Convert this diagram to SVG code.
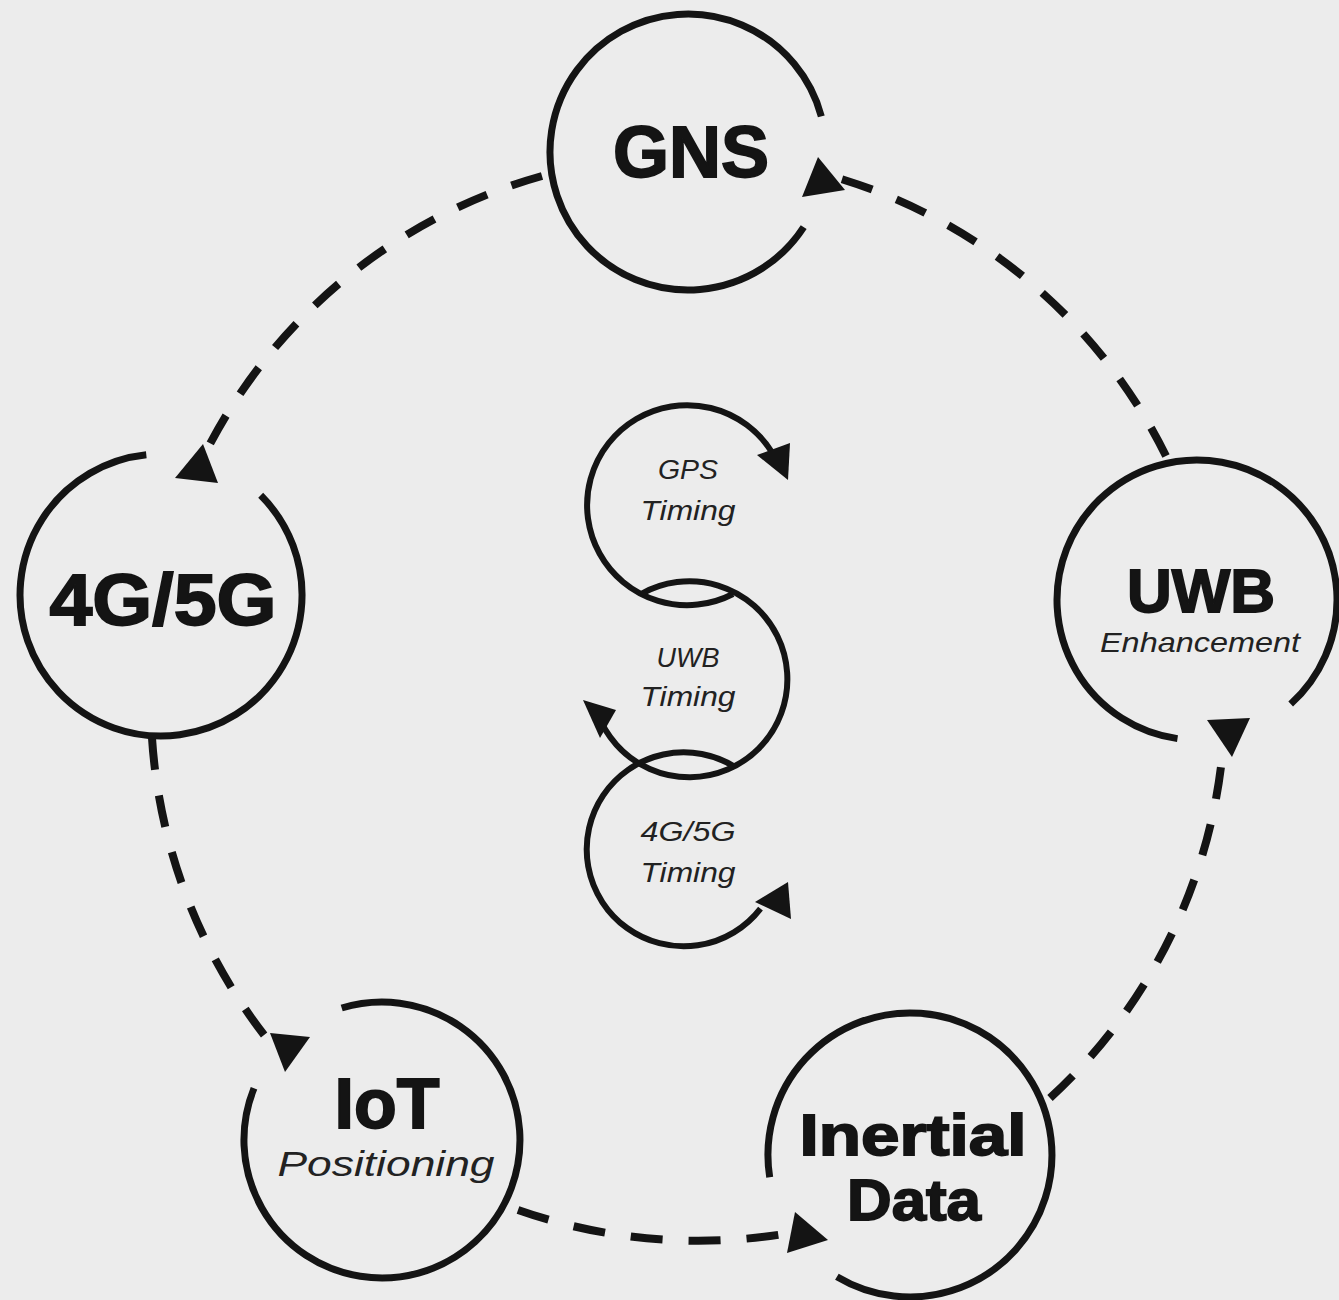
<svg xmlns="http://www.w3.org/2000/svg" width="1339" height="1300" viewBox="0 0 1339 1300">
<style>
.ring{fill:none;stroke:#141414;stroke-width:7;stroke-linecap:butt}
.spiral{fill:none;stroke:#141414;stroke-width:6;stroke-linecap:butt}
.dash{fill:none;stroke:#141414;stroke-width:8;stroke-dasharray:32 26;stroke-linecap:butt}
.head{fill:#141414}
.big{font-family:"Liberation Sans",Arial,sans-serif;font-weight:bold;fill:#141414;stroke:#141414;stroke-width:1.8;text-anchor:middle}
.sub{font-family:"Liberation Sans",Arial,sans-serif;font-style:italic;fill:#222;text-anchor:middle}
</style>
<rect width="1339" height="1300" fill="#ececec"/>
<g id="connectors">
<path class="dash" d="M1166,456 A540,540 0 0,0 838,178"/>
<path class="dash" d="M542,176 A540,540 0 0,0 210,444"/>
<path class="dash" d="M152,738 A545,545 0 0,0 272,1045"/>
<path class="dash" d="M518,1210 A545,545 0 0,0 790,1233"/>
<path class="dash" d="M1050,1098 A540,540 0 0,0 1222,758"/>
<polygon class="head" points="802,197 818,157 845,190"/>
<polygon class="head" points="175,478 203,444 218,483"/>
<polygon class="head" points="270,1033 310,1037 285,1072"/>
<polygon class="head" points="795,1212 828,1240 787,1253"/>
<polygon class="head" points="1207,720 1250,718 1232,757"/>
</g>
<g id="node-gns">
<path class="ring" d="M803.7,227.2 A138,138 0 1,1 821.3,116.3"/>
<text class="big" x="691" y="177" font-size="72">GNS</text>
</g>
<g id="node-4g5g">
<path class="ring" d="M260.7,495.3 A141,141 0 1,1 146.3,454.8"/>
<text class="big" x="163" y="625" font-size="72" textLength="227" lengthAdjust="spacingAndGlyphs">4G/5G</text>
</g>
<g id="node-uwb">
<path class="ring" d="M1177.5,738.6 A140,140 0 1,1 1290.7,704"/>
<text class="big" x="1201" y="612" font-size="62">UWB</text>
<text class="sub" x="1200" y="652" font-size="28" textLength="200" lengthAdjust="spacingAndGlyphs">Enhancement</text>
</g>
<g id="node-iot">
<path class="ring" d="M341.7,1008 A138,138 0 1,1 254,1088.3"/>
<text class="big" x="387" y="1128" font-size="70">IoT</text>
<text class="sub" x="386" y="1176" font-size="35" textLength="217" lengthAdjust="spacingAndGlyphs">Positioning</text>
</g>
<g id="node-inertial">
<path class="ring" d="M769.7,1177.2 A142,142 0 1,1 836.9,1276.7"/>
<text class="big" x="913" y="1155" font-size="58" textLength="227" lengthAdjust="spacingAndGlyphs">Inertial</text>
<text class="big" x="914" y="1220" font-size="58" textLength="134" lengthAdjust="spacingAndGlyphs">Data</text>
</g>
<g id="center-timing">
<path class="spiral" d="M733,594 A100,100 0 1,1 771.8,452"/>
<polygon class="head" points="757,455 790,443 788,480"/>
<path class="spiral" d="M641,594 A98,98 0 1,1 597,712"/>
<polygon class="head" points="583,700 616,710 600,738"/>
<path class="spiral" d="M735,767 A97,97 0 1,0 760.5,908.6"/>
<polygon class="head" points="755,902 788,882 791,919"/>
<text class="sub" x="688" y="479" font-size="27" textLength="60" lengthAdjust="spacingAndGlyphs">GPS</text>
<text class="sub" x="688" y="520" font-size="27" textLength="95" lengthAdjust="spacingAndGlyphs">Timing</text>
<text class="sub" x="688" y="667" font-size="27" textLength="63" lengthAdjust="spacingAndGlyphs">UWB</text>
<text class="sub" x="688" y="706" font-size="27" textLength="95" lengthAdjust="spacingAndGlyphs">Timing</text>
<text class="sub" x="688" y="841" font-size="27" textLength="95" lengthAdjust="spacingAndGlyphs">4G/5G</text>
<text class="sub" x="688" y="882" font-size="27" textLength="95" lengthAdjust="spacingAndGlyphs">Timing</text>
</g>
</svg>
